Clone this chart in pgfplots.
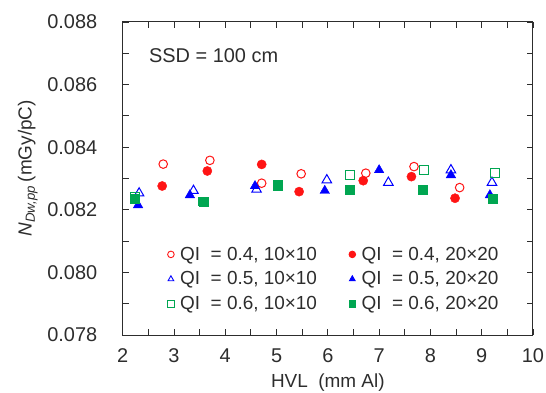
\documentclass[border=0pt]{standalone}
\usepackage{pgfplots}
\pgfplotsset{compat=1.18}
\usepackage{fontspec}
\setmainfont{Liberation Sans}
\definecolor{myred}{RGB}{255,20,20}
\definecolor{myblue}{RGB}{0,0,255}
\definecolor{mygreen}{RGB}{0,166,81}
\definecolor{axgray}{RGB}{45,45,45}
\begin{document}
\begin{tikzpicture}
\begin{axis}[
 scale only axis, width=410.3bp, height=313bp,
 xmin=2, xmax=10, ymin=0.078, ymax=0.088,
 xtick={2,3,4,5,6,7,8,9,10},
 ytick={0.078,0.080,0.082,0.084,0.086,0.088},
 minor x tick num=1, minor y tick num=1,
 major tick length=6bp, minor tick length=6bp,
 tick style={axgray, line width=0.9bp},
 axis line style={axgray, line width=1bp},
 scaled y ticks=false,
 yticklabel style={xshift=-22bp, /pgf/number format/.cd, fixed, fixed zerofill, precision=3},
 /pgf/number format/assume math mode=true,
 tick label style={font=\fontsize{20}{24}\selectfont, text=axgray},
 xticklabel style={yshift=-10bp},
 label style={font=\fontsize{19}{23}\selectfont, text=axgray},
 xlabel={HVL\ \ (mm Al)},
 xlabel style={at={(axis description cs:0.5,-0.1693)}, anchor=base},
 ylabel={\textit{N}\textsubscript{\textit{Dw,pp}}\,(mGy/pC)},
 ylabel style={at={(axis description cs:-0.2315,0.533)}, anchor=center},
 legend columns=2,
 legend cell align=left,
 legend style={draw=none, fill=none, at={(axis description cs:0.109,0.288)}, anchor=north west, inner sep=0pt, font=\fontsize{19}{23}\selectfont, text=axgray, row sep=6bp, /tikz/every even column/.append style={column sep=30bp}, /tikz/every odd column/.append style={column sep=4bp}},
 legend image code/.code={\draw[#1, mark size=3.3bp, line width=0.9bp] plot coordinates {(0bp,0bp)};},
]
\addplot[only marks, mark=o, mark size=4.3bp, line width=1bp, myred] coordinates {
 (2.79,0.08346) (3.70,0.08358) (4.71,0.08285) (5.48,0.08315) (6.74,0.08317) (7.68,0.08338) (8.57,0.08271)};
\addlegendentry{QI\ \ = 0.4, 10×10}
\addplot[only marks, mark=*, mark size=4.6bp, myred, mark options={fill=myred}] coordinates {
 (2.77,0.08276) (3.65,0.08324) (4.71,0.08345) (5.44,0.08258) (6.69,0.08293) (7.63,0.08306) (8.48,0.08237)};
\addlegendentry{QI\ \ = 0.4, 20×20}
\addplot[only marks, mark=triangle, mark size=5.5bp, line width=1bp, myblue] coordinates {
 (2.32,0.08253) (3.38,0.08261) (4.61,0.08265) (5.98,0.08295) (7.18,0.08287) (8.40,0.08327) (9.20,0.08287)};
\addlegendentry{QI\ \ = 0.5, 10×10}
\addplot[only marks, mark=triangle*, mark size=5.5bp, myblue, mark options={fill=myblue}] coordinates {
 (2.30,0.08215) (3.31,0.08247) (4.58,0.08276) (5.94,0.08261) (7.00,0.08327) (8.40,0.08311) (9.16,0.08247)};
\addlegendentry{QI\ \ = 0.5, 20×20}
\addplot[only marks, mark=square, mark size=4.3bp, line width=1bp, mygreen] coordinates {
 (2.24,0.08240) (3.57,0.08226) (5.03,0.08281) (6.43,0.08311) (7.87,0.08327) (9.26,0.08317)};
\addlegendentry{QI\ \ = 0.6, 10×10}
\addplot[only marks, mark=square*, mark size=4.5bp, mygreen, mark options={fill=mygreen}] coordinates {
 (2.24,0.08234) (3.57,0.08226) (5.03,0.08276) (6.42,0.08263) (7.85,0.08263) (9.22,0.08237)};
\addlegendentry{QI\ \ = 0.6, 20×20}
\node[anchor=base west, inner sep=0pt, font=\fontsize{20}{24}\selectfont, text=axgray] at (axis description cs:0.064,0.870) {SSD = 100 cm};
\end{axis}
\pgfresetboundingbox
\path[use as bounding box] ([xshift=-122.7bp,yshift=-58bp]current axis.south west) rectangle ++(546bp,393bp);
\end{tikzpicture}
\end{document}
